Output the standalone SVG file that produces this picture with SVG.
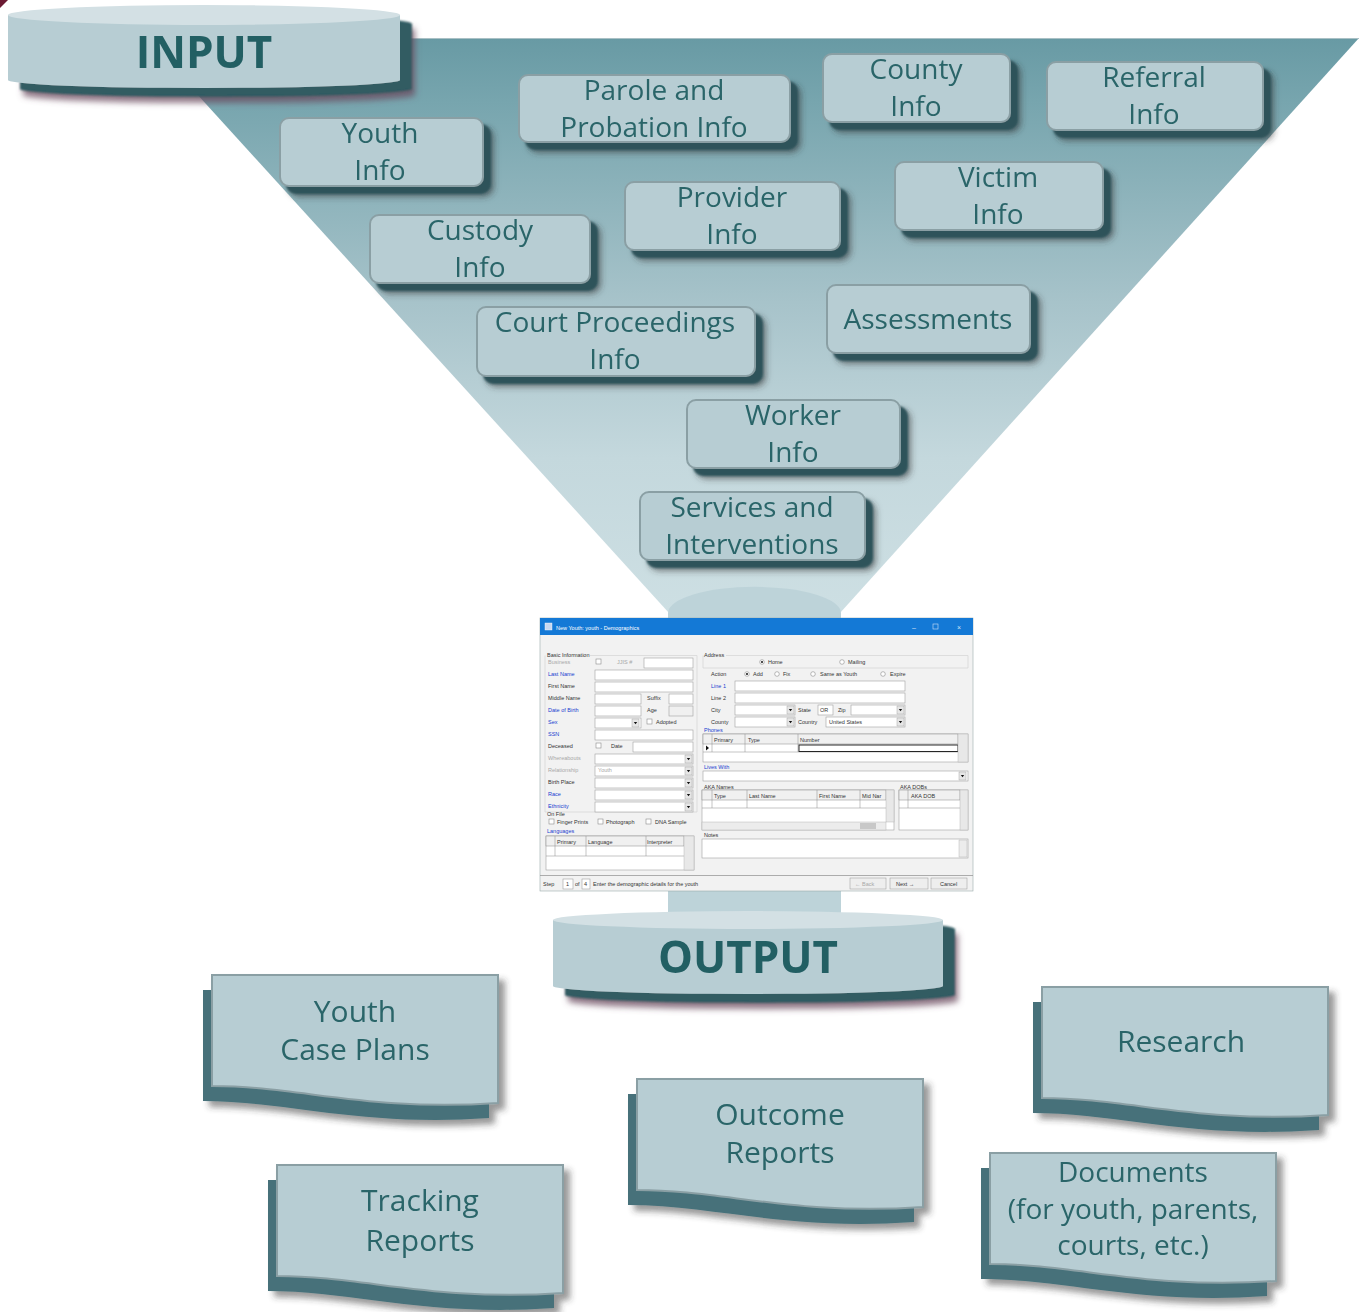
<svg xmlns="http://www.w3.org/2000/svg" xmlns:xlink="http://www.w3.org/1999/xlink" width="1359" height="1312" viewBox="0 0 1359 1312">
<style>
.bx{fill:#b7cdd3;stroke:#8a9fa4;stroke-width:2}
.bt{font-family:"Open Sans","Noto Sans",sans-serif;font-size:28px;fill:#2a6569;text-anchor:middle}
.dt{font-family:"Open Sans","Noto Sans",sans-serif;font-size:30px;fill:#2a6569;text-anchor:middle}
.hd{font-family:"Open Sans","Noto Sans",sans-serif;font-size:44px;font-weight:bold;fill:#245f64;text-anchor:middle}
.docf{fill:#b7cdd3;stroke:#8a9fa4;stroke-width:2}
.docs{fill:#46717a}
.s{font-family:"Liberation Sans",Arial,sans-serif;font-size:5.5px;fill:#333}
.sb{font-family:"Liberation Sans",Arial,sans-serif;font-size:5.5px;fill:#2040d0}
.sg{font-family:"Liberation Sans",Arial,sans-serif;font-size:5.5px;fill:#a8a8a8}
.in{fill:#fff;stroke:#a0a0a0;stroke-width:0.6}
.cb{fill:#fff;stroke:#777;stroke-width:0.5}
.gl{fill:none;stroke:#d4d4d4;stroke-width:0.7}
.cl{stroke:#888;stroke-width:0.5}
</style>
<defs>
<linearGradient id="fg" x1="0" y1="38" x2="0" y2="613" gradientUnits="userSpaceOnUse">
<stop offset="0" stop-color="#689aa4"/>
<stop offset="0.11" stop-color="#77a5ae"/>
<stop offset="0.46" stop-color="#a7c3ca"/>
<stop offset="0.73" stop-color="#c4d8dd"/>
<stop offset="1" stop-color="#cddfe3"/>
</linearGradient>
<filter id="cyl" x="-10%" y="-40%" width="125%" height="200%">
<feOffset in="SourceAlpha" dx="15" dy="15" result="o2"/>
<feGaussianBlur in="o2" stdDeviation="3" result="b"/>
<feFlood flood-color="#6a4a5e" flood-opacity="0.75"/>
<feComposite in2="b" operator="in" result="s2"/>
<feOffset in="SourceAlpha" dx="12" dy="9" result="o"/>
<feGaussianBlur in="o" stdDeviation="0.8" result="ob"/>
<feFlood flood-color="#305b62"/>
<feComposite in2="ob" operator="in" result="s1"/>
<feMerge><feMergeNode in="s2"/><feMergeNode in="s1"/><feMergeNode in="SourceGraphic"/></feMerge>
</filter>
<filter id="bsh" x="-10%" y="-20%" width="130%" height="150%">
<feOffset in="SourceAlpha" dx="10" dy="10" result="o2"/>
<feGaussianBlur in="o2" stdDeviation="3" result="b"/>
<feFlood flood-color="#333" flood-opacity="0.55"/>
<feComposite in2="b" operator="in" result="s2"/>
<feOffset in="SourceAlpha" dx="7" dy="7" result="o"/>
<feGaussianBlur in="o" stdDeviation="1" result="ob"/>
<feFlood flood-color="#2e535a"/>
<feComposite in2="ob" operator="in" result="s1"/>
<feMerge><feMergeNode in="s2"/><feMergeNode in="s1"/><feMergeNode in="SourceGraphic"/></feMerge>
</filter>
<filter id="dsh" x="-10%" y="-10%" width="130%" height="140%">
<feGaussianBlur in="SourceAlpha" stdDeviation="3" result="b"/>
<feOffset in="b" dx="6" dy="6" result="ob"/>
<feFlood flood-color="#333" flood-opacity="0.5"/>
<feComposite in2="ob" operator="in" result="s"/>
<feMerge><feMergeNode in="s"/><feMergeNode in="SourceGraphic"/></feMerge>
</filter>
<path id="doc" d="M0,0 H286 V128 C157,137 86,111 0,111 Z"/>
<g id="dd"><rect width="7" height="8" fill="#e6e6e6" stroke="#999" stroke-width="0.4"/><path d="M1.8,3 h3.4 l-1.7,2.2z" fill="#111"/></g>
</defs>

<rect width="1359" height="1312" fill="#fff"/>
<path d="M0,0 H8 L0,8 Z" fill="#6b1a33"/>

<g id="funnel">
<polygon points="146,38 1359,38 840,613 669,613" fill="url(#fg)"/>
<line x1="146" y1="38.5" x2="1359" y2="38.5" stroke="#a9c0c5" stroke-width="1"/>
<path d="M668,613 A86,26 0 0 1 841,613 V930 H668 Z" fill="#bdd3d9"/>
</g>

<g id="input" filter="url(#cyl)">
<path d="M8,15 V80 A196,8 0 0 0 400,80 V15 Z" fill="#b7cdd3"/>
<ellipse cx="204" cy="15" rx="196" ry="10" fill="#d3e0e4"/>
<text class="hd" x="204" y="68">INPUT</text>
</g>

<g id="youth-info" filter="url(#bsh)"><rect class="bx" x="280" y="118" width="203" height="68" rx="9"/><text class="bt" x="380" y="143">Youth</text><text class="bt" x="380" y="180">Info</text></g>
<g id="parole-info" filter="url(#bsh)"><rect class="bx" x="519" y="75" width="271" height="67" rx="9"/><text class="bt" x="654" y="100">Parole and</text><text class="bt" x="654" y="137">Probation Info</text></g>
<g id="county-info" filter="url(#bsh)"><rect class="bx" x="823" y="54" width="187" height="68" rx="9"/><text class="bt" x="916" y="79">County</text><text class="bt" x="916" y="116">Info</text></g>
<g id="referral-info" filter="url(#bsh)"><rect class="bx" x="1047" y="62" width="216" height="68" rx="9"/><text class="bt" x="1154" y="87">Referral</text><text class="bt" x="1154" y="124">Info</text></g>
<g id="victim-info" filter="url(#bsh)"><rect class="bx" x="895" y="162" width="208" height="68" rx="9"/><text class="bt" x="998" y="187">Victim</text><text class="bt" x="998" y="224">Info</text></g>
<g id="provider-info" filter="url(#bsh)"><rect class="bx" x="625" y="182" width="215" height="68" rx="9"/><text class="bt" x="732" y="207">Provider</text><text class="bt" x="732" y="244">Info</text></g>
<g id="custody-info" filter="url(#bsh)"><rect class="bx" x="370" y="215" width="220" height="68" rx="9"/><text class="bt" x="480" y="240">Custody</text><text class="bt" x="480" y="277">Info</text></g>
<g id="court-info" filter="url(#bsh)"><rect class="bx" x="477" y="307" width="278" height="69" rx="9"/><text class="bt" x="615" y="332">Court Proceedings</text><text class="bt" x="615" y="369">Info</text></g>
<g id="assessments" filter="url(#bsh)"><rect class="bx" x="827" y="285" width="203" height="68" rx="9"/><text class="bt" x="928" y="329">Assessments</text></g>
<g id="worker-info" filter="url(#bsh)"><rect class="bx" x="687" y="400" width="213" height="68" rx="9"/><text class="bt" x="793" y="425">Worker</text><text class="bt" x="793" y="462">Info</text></g>
<g id="services" filter="url(#bsh)"><rect class="bx" x="640" y="492" width="225" height="68" rx="9"/><text class="bt" x="752" y="517">Services and</text><text class="bt" x="752" y="554">Interventions</text></g>

<g id="screen">
<rect x="540" y="618" width="433" height="273" fill="#f2f2f2" stroke="#9aa" stroke-width="0.6"/>
<rect x="540" y="618" width="433" height="17" fill="#1479d6"/>
<rect x="545" y="623" width="7" height="7" fill="#c8d8f0" stroke="#fff" stroke-width="0.4"/>
<text x="556" y="629.5" font-family="Liberation Sans,Arial,sans-serif" font-size="5.5" fill="#fff">New Youth: youth - Demographics</text>
<text x="912" y="630" font-family="Liberation Sans,Arial,sans-serif" font-size="7" fill="#cfe2f7">–</text>
<rect x="933" y="624" width="5" height="5" fill="none" stroke="#cfe2f7" stroke-width="0.6"/>
<text x="957" y="630" font-family="Liberation Sans,Arial,sans-serif" font-size="7" fill="#cfe2f7">×</text>
<!-- left panel -->
<path class="gl" d="M590,655.5 H697 V812 H545 V655.5"/>
<text class="s" x="547" y="657">Basic Information</text>
<text class="sg" x="548" y="664">Business</text><rect class="cb" x="596" y="659" width="5" height="5"/><text class="sg" x="617" y="664">JJIS #</text><rect class="in" x="644" y="658" width="49" height="10"/>
<text class="sb" x="548" y="676">Last Name</text><rect class="in" x="595" y="670" width="98" height="10"/>
<text class="s" x="548" y="688">First Name</text><rect class="in" x="595" y="682" width="98" height="10"/>
<text class="s" x="548" y="700">Middle Name</text><rect class="in" x="595" y="694" width="46" height="10"/><text class="s" x="647" y="700">Suffix</text><rect class="in" x="669" y="694" width="24" height="10"/>
<text class="sb" x="548" y="712">Date of Birth</text><rect class="in" x="595" y="706" width="46" height="10"/><text class="s" x="647" y="712">Age</text><rect x="669" y="706" width="24" height="10" fill="#f0f0f0" stroke="#a0a0a0" stroke-width="0.6"/>
<text class="sb" x="548" y="724">Sex</text><rect class="in" x="595" y="718" width="46" height="10"/><use href="#dd" x="632" y="719"/><rect class="cb" x="647" y="719" width="5" height="5"/><text class="s" x="656" y="724">Adopted</text>
<text class="sb" x="548" y="736">SSN</text><rect class="in" x="595" y="730" width="98" height="10"/>
<text class="s" x="548" y="748">Deceased</text><rect class="cb" x="596" y="743" width="5" height="5"/><text class="s" x="611" y="748">Date</text><rect class="in" x="633" y="742" width="60" height="10"/>
<text class="sg" x="548" y="760">Whereabouts</text><rect class="in" x="595" y="754" width="98" height="10"/><use href="#dd" x="685" y="755"/>
<text class="sg" x="548" y="772">Relationship</text><rect class="in" x="595" y="766" width="98" height="10"/><text class="sg" x="598" y="772">Youth</text><use href="#dd" x="685" y="767"/>
<text class="s" x="548" y="784">Birth Place</text><rect class="in" x="595" y="778" width="98" height="10"/><use href="#dd" x="685" y="779"/>
<text class="sb" x="548" y="796">Race</text><rect class="in" x="595" y="790" width="98" height="10"/><use href="#dd" x="685" y="791"/>
<text class="sb" x="548" y="808">Ethnicity</text><rect class="in" x="595" y="802" width="98" height="10"/><use href="#dd" x="685" y="803"/>
<text class="s" x="547" y="816">On File</text>
<rect class="cb" x="549" y="819" width="5" height="5"/><text class="s" x="557" y="824">Finger Prints</text>
<rect class="cb" x="598" y="819" width="5" height="5"/><text class="s" x="606" y="824">Photograph</text>
<rect class="cb" x="646" y="819" width="5" height="5"/><text class="s" x="655" y="824">DNA Sample</text>
<text class="sb" x="547" y="833">Languages</text>
<rect class="in" x="546" y="836" width="148" height="34"/>
<rect x="546" y="836" width="138" height="10" fill="#f0f0f0" stroke="#888" stroke-width="0.5"/>
<line class="cl" x1="555" y1="836" x2="555" y2="856"/><line class="cl" x1="586" y1="836" x2="586" y2="856"/><line class="cl" x1="646" y1="836" x2="646" y2="856"/>
<line class="cl" x1="546" y1="856" x2="684" y2="856"/>
<rect x="684" y="836" width="10" height="34" fill="#e8e8e8" stroke="#aaa" stroke-width="0.4"/>
<text class="s" x="557" y="844">Primary</text><text class="s" x="588" y="844">Language</text><text class="s" x="647" y="844">Interpreter</text>
<!-- right panel -->
<path class="gl" d="M726,655.5 H968 V668 H703 V655.5"/>
<text class="s" x="704" y="657">Address</text>
<circle cx="762" cy="662" r="2.3" class="cb"/><circle cx="762" cy="662" r="1" fill="#111"/><text class="s" x="768" y="664">Home</text>
<circle cx="842" cy="662" r="2.3" class="cb"/><text class="s" x="848" y="664">Mailing</text>
<text class="s" x="711" y="676">Action</text>
<circle cx="747" cy="674" r="2.3" class="cb"/><circle cx="747" cy="674" r="1" fill="#111"/><text class="s" x="753" y="676">Add</text>
<circle cx="777" cy="674" r="2.3" class="cb"/><text class="s" x="783" y="676">Fix</text>
<circle cx="813" cy="674" r="2.3" class="cb"/><text class="s" x="820" y="676">Same as Youth</text>
<circle cx="883" cy="674" r="2.3" class="cb"/><text class="s" x="890" y="676">Expire</text>
<text class="sb" x="711" y="688">Line 1</text><rect class="in" x="735" y="681" width="170" height="10"/>
<text class="s" x="711" y="700">Line 2</text><rect class="in" x="735" y="693" width="170" height="10"/>
<text class="s" x="711" y="712">City</text><rect class="in" x="735" y="705" width="60" height="10"/><use href="#dd" x="787" y="706"/>
<text class="s" x="798" y="712">State</text><rect class="in" x="818" y="705" width="15" height="10"/><text class="s" x="820" y="712">OR</text>
<text class="s" x="838" y="712">Zip</text><rect class="in" x="851" y="705" width="54" height="10"/><use href="#dd" x="897" y="706"/>
<text class="s" x="711" y="724">County</text><rect class="in" x="735" y="717" width="60" height="10"/><use href="#dd" x="787" y="718"/>
<text class="s" x="798" y="724">Country</text><rect class="in" x="826" y="717" width="79" height="10"/><text class="s" x="829" y="724">United States</text><use href="#dd" x="897" y="718"/>
<text class="sb" x="704" y="732">Phones</text>
<rect class="in" x="703" y="734" width="265" height="28"/>
<rect x="703" y="734" width="255" height="10" fill="#f0f0f0" stroke="#888" stroke-width="0.5"/>
<line class="cl" x1="712" y1="734" x2="712" y2="752"/><line class="cl" x1="745" y1="734" x2="745" y2="752"/><line class="cl" x1="798" y1="734" x2="798" y2="752"/>
<line class="cl" x1="703" y1="752" x2="958" y2="752"/>
<rect x="799" y="745" width="159" height="6.5" fill="#fff" stroke="#111" stroke-width="0.9"/>
<path d="M706,745.5 l3,2.5 l-3,2.5z" fill="#111"/>
<rect x="958" y="734" width="10" height="28" fill="#e8e8e8" stroke="#aaa" stroke-width="0.4"/>
<text class="s" x="714" y="741.5">Primary</text><text class="s" x="748" y="741.5">Type</text><text class="s" x="800" y="741.5">Number</text>
<text class="sb" x="704" y="769">Lives With</text><rect class="in" x="703" y="771" width="265" height="10"/><use href="#dd" x="959" y="772"/>
<text class="s" x="704" y="789">AKA Names</text>
<rect class="in" x="702" y="790" width="192" height="40"/>
<rect x="702" y="790" width="184" height="10" fill="#f0f0f0" stroke="#888" stroke-width="0.5"/>
<line class="cl" x1="712" y1="790" x2="712" y2="808"/><line class="cl" x1="747" y1="790" x2="747" y2="808"/><line class="cl" x1="817" y1="790" x2="817" y2="808"/><line class="cl" x1="860" y1="790" x2="860" y2="808"/>
<line class="cl" x1="702" y1="808" x2="886" y2="808"/>
<rect x="886" y="790" width="8" height="32" fill="#e8e8e8" stroke="#aaa" stroke-width="0.4"/>
<rect x="702" y="822" width="184" height="8" fill="#ececec" stroke="#aaa" stroke-width="0.4"/>
<rect x="860" y="823" width="16" height="6" fill="#c8c8c8"/>
<text class="s" x="714" y="797.5">Type</text><text class="s" x="749" y="797.5">Last Name</text><text class="s" x="819" y="797.5">First Name</text><text class="s" x="862" y="797.5">Mid Nar</text>
<text class="s" x="900" y="789">AKA DOBs</text>
<rect class="in" x="899" y="790" width="69" height="40"/>
<rect x="899" y="790" width="61" height="10" fill="#f0f0f0" stroke="#888" stroke-width="0.5"/>
<line class="cl" x1="908" y1="790" x2="908" y2="808"/><line class="cl" x1="899" y1="808" x2="960" y2="808"/>
<rect x="960" y="790" width="8" height="40" fill="#e8e8e8" stroke="#aaa" stroke-width="0.4"/>
<text class="s" x="911" y="797.5">AKA DOB</text>
<text class="s" x="704" y="837">Notes</text>
<rect class="in" x="702" y="839" width="266" height="19"/><rect x="959" y="840" width="8" height="17" fill="#ececec" stroke="#aaa" stroke-width="0.4"/>
<!-- status bar -->
<line x1="540" y1="875.5" x2="973" y2="875.5" stroke="#999" stroke-width="0.8"/>
<text class="s" x="543" y="886">Step</text><rect class="in" x="563" y="879" width="10" height="10"/><text class="s" x="566" y="886">1</text>
<text class="s" x="575" y="886">of</text><rect class="in" x="582" y="879" width="8" height="10"/><text class="s" x="584" y="886">4</text>
<text class="s" x="593" y="886">Enter the demographic details for the youth</text>
<rect x="850" y="878" width="36" height="11" fill="#eee" stroke="#999" stroke-width="0.5"/><text class="sg" x="855" y="886">← Back</text>
<rect x="890" y="878" width="38" height="11" fill="#eee" stroke="#999" stroke-width="0.5"/><text class="s" x="896" y="886">Next →</text>
<rect x="931" y="878" width="36" height="11" fill="#eee" stroke="#999" stroke-width="0.5"/><text class="s" x="940" y="886">Cancel</text>
</g>

<g id="output" filter="url(#cyl)">
<path d="M553,920 V986 A195,8 0 0 0 943,986 V920 Z" fill="#b7cdd3"/>
<ellipse cx="748" cy="920" rx="195" ry="9" fill="#d3e0e4"/>
<text class="hd" x="748" y="973">OUTPUT</text>
</g>

<g id="youth-case-plans" filter="url(#dsh)"><use href="#doc" class="docs" x="203" y="990"/><use href="#doc" class="docf" x="212" y="975"/><text class="dt" x="355" y="1022">Youth</text><text class="dt" x="355" y="1060">Case Plans</text></g>
<g id="research" filter="url(#dsh)"><use href="#doc" class="docs" x="1033" y="1002"/><use href="#doc" class="docf" x="1042" y="987"/><text class="dt" x="1181" y="1052">Research</text></g>
<g id="outcome-reports" filter="url(#dsh)"><use href="#doc" class="docs" x="628" y="1094"/><use href="#doc" class="docf" x="637" y="1079"/><text class="dt" x="780" y="1125">Outcome</text><text class="dt" x="780" y="1163">Reports</text></g>
<g id="tracking-reports" filter="url(#dsh)"><use href="#doc" class="docs" x="268" y="1180"/><use href="#doc" class="docf" x="277" y="1165"/><text class="dt" x="420" y="1211">Tracking</text><text class="dt" x="420" y="1251">Reports</text></g>
<g id="documents" filter="url(#dsh)"><use href="#doc" class="docs" x="981" y="1168"/><use href="#doc" class="docf" x="990" y="1153"/><text class="dt" x="1133" y="1182" style="font-size:28px">Documents</text><text class="dt" x="1133" y="1219" style="font-size:28px">(for youth, parents,</text><text class="dt" x="1133" y="1255" style="font-size:28px">courts, etc.)</text></g>
</svg>
